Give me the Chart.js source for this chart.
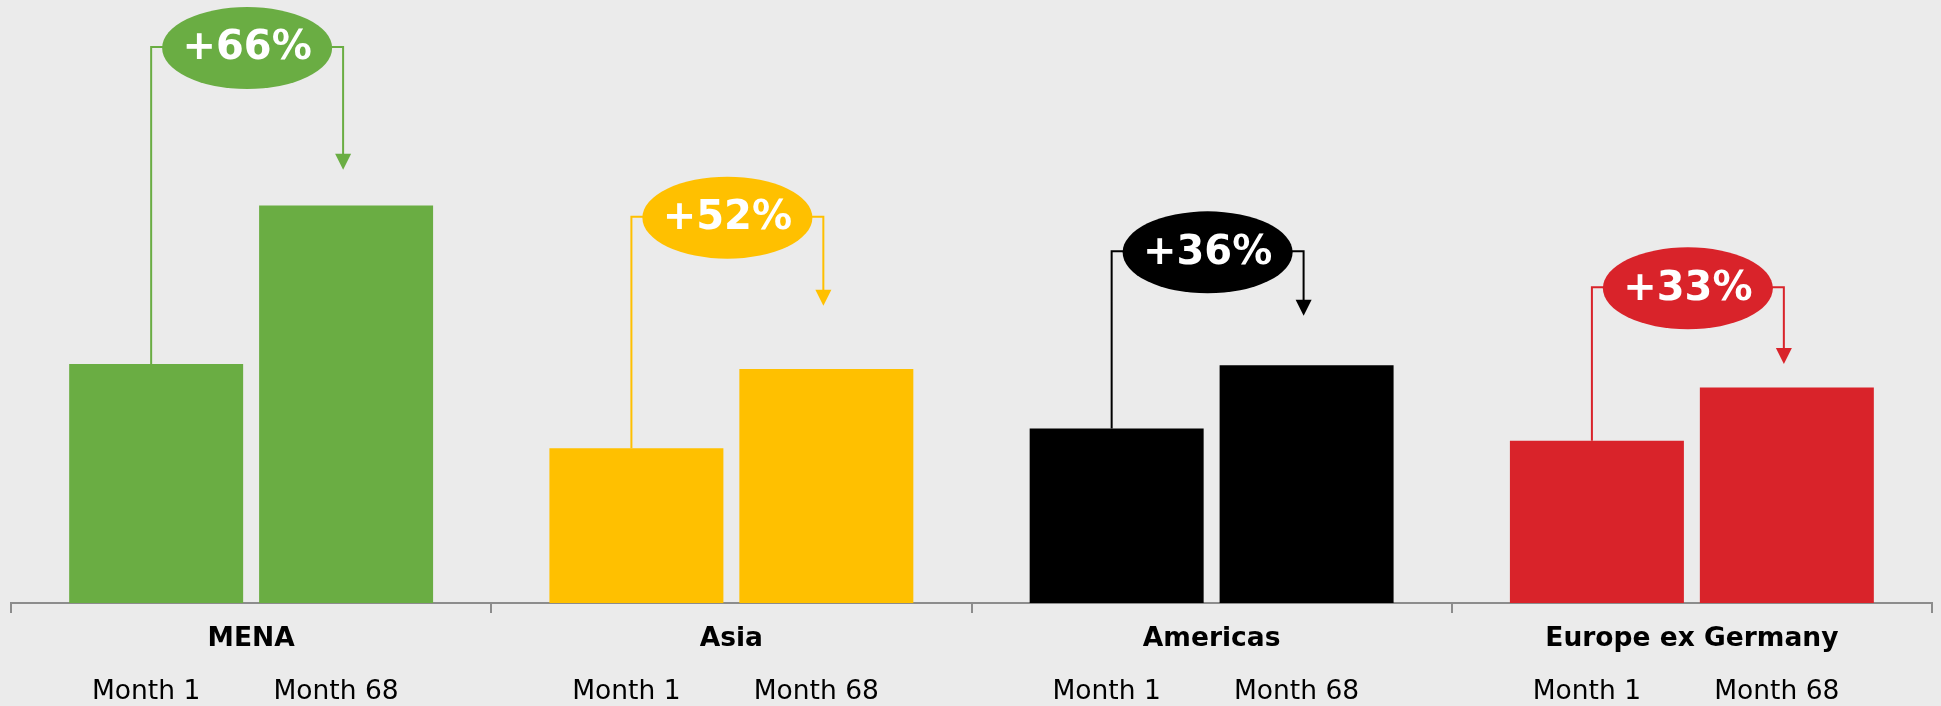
<!DOCTYPE html>
<html>
<head>
<meta charset="utf-8">
<script src="https://cdn.jsdelivr.net/npm/chart.js@4.4.0/dist/chart.umd.min.js"></script>
<style>
    html, body { margin: 0; padding: 0; background: #ebebeb; }
    #wrap { width: 1941px; height: 706px; position: relative; }
</style>
</head>
<body>
<div id="wrap"><canvas id="growth-chart"></canvas></div>
<script>
const regions = ['MENA', 'Asia', 'Americas', 'Europe ex Germany'];
const seriesNames = ['Month 1', 'Month 68'];
const month1 = [193, 125, 141, 131];
const month68 = [321, 189, 192, 174];
const changeLabels = ['+66%', '+52%', '+36%', '+33%'];
const regionColors = ['#6aad43', '#ffc000', '#000000', '#d9232a'];
// bubble line level and arrow tip, in value units
const bubbleLevels = [449, 312, 284, 255];
const arrowTips = [350, 240, 232, 193];
const yMax = 487;

const growthPlugin = {
    id: 'growth',
    beforeDraw(chart) {
        const ctx = chart.ctx;
        ctx.save();
        ctx.fillStyle = '#ebebeb';
        ctx.fillRect(0, 0, chart.width, chart.height);
        ctx.restore();
    },
    afterDatasetsDraw(chart) {
        const ctx = chart.ctx;
        const y = chart.scales.y;
        const first = chart.getDatasetMeta(0).data;
        const last = chart.getDatasetMeta(1).data;
        const monthY = chart.chartArea.bottom + 89;

        regions.forEach((r, i) => {
            const color = regionColors[i];
            const xl = first[i].x - 5;
            const xr = last[i].x - 3;
            const level = y.getPixelForValue(bubbleLevels[i]);
            const tip = y.getPixelForValue(arrowTips[i]);
            const cx = (xl + xr) / 2;

            ctx.save();
            ctx.strokeStyle = color;
            ctx.fillStyle = color;
            ctx.lineWidth = 2;
            ctx.beginPath();
            ctx.moveTo(xl, first[i].y);
            ctx.lineTo(xl, level);
            ctx.lineTo(xr, level);
            ctx.lineTo(xr, tip - 14);
            ctx.stroke();

            ctx.beginPath();
            ctx.moveTo(xr - 8, tip - 16);
            ctx.lineTo(xr + 8, tip - 16);
            ctx.lineTo(xr, tip);
            ctx.closePath();
            ctx.fill();

            ctx.beginPath();
            ctx.ellipse(cx, level + 1, 85, 41, 0, 0, Math.PI * 2);
            ctx.fill();

            ctx.fillStyle = '#ffffff';
            ctx.font = 'bold 40px "DejaVu Sans"';
            ctx.textAlign = 'center';
            ctx.textBaseline = 'middle';
            ctx.fillText(changeLabels[i], cx, level + 2);

            ctx.fillStyle = '#000000';
            ctx.font = '26.5px "DejaVu Sans"';
            ctx.fillText(seriesNames[0], first[i].x - 10, monthY);
            ctx.fillText(seriesNames[1], last[i].x - 10, monthY);
            ctx.restore();
        });
    }
};

new Chart(document.getElementById('growth-chart').getContext('2d'), {
    type: 'bar',
    data: {
        labels: regions,
        datasets: [{
            label: seriesNames[0],
            data: month1,
            backgroundColor: regionColors,
            borderWidth: 0,
            barPercentage: 0.916,
            categoryPercentage: 0.791
        }, {
            label: seriesNames[1],
            data: month68,
            backgroundColor: regionColors,
            borderWidth: 0,
            barPercentage: 0.916,
            categoryPercentage: 0.791
        }]
    },
    options: {
        responsive: true,
        maintainAspectRatio: false,
        animation: false,
        layout: {
            padding: { left: 11, right: 9, top: 0, bottom: 0 }
        },
        scales: {
            x: {
                grid: {
                    offset: true,
                    drawOnChartArea: false,
                    color: '#8c8c8c',
                    lineWidth: 2,
                    tickLength: 10
                },
                border: { color: '#8c8c8c', width: 2 },
                ticks: {
                    color: '#000000',
                    padding: 10,
                    font: { family: 'DejaVu Sans', size: 26.5, weight: 'bold' }
                },
                afterFit(scale) {
                    scale.height = 103;
                }
            },
            y: {
                display: false,
                min: 0,
                max: yMax
            }
        },
        plugins: {
            legend: { display: false },
            tooltip: { enabled: false }
        }
    },
    plugins: [growthPlugin]
});
</script>
</body>
</html>
